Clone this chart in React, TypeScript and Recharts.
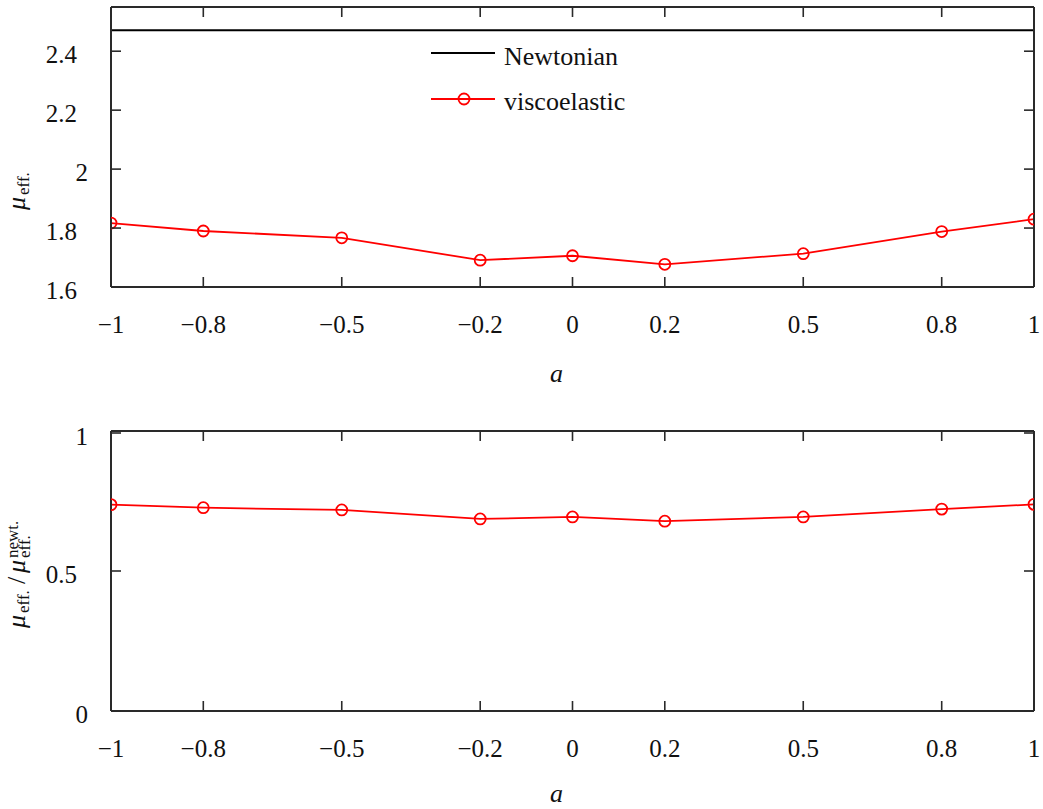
import { Label, Legend, Line, LineChart, XAxis, YAxis } from "recharts";

// values
const aValues = [-1, -0.8, -0.5, -0.2, 0, 0.2, 0.5, 0.8, 1];
const muViscoelastic = [1.817, 1.79, 1.767, 1.691, 1.706, 1.677, 1.713, 1.788, 1.83];
const muNewtonian = 2.471;
const muRatio = [0.737, 0.726, 0.718, 0.686, 0.693, 0.678, 0.693, 0.721, 0.738];

const aTicks = [-1, -0.8, -0.5, -0.2, 0, 0.2, 0.5, 0.8, 1];
const muTicks = [1.6, 1.8, 2, 2.2, 2.4];
const ratioTicks = [0, 0.5, 1];

const topRows = aValues.map((a, i) => ({
  a,
  newtonian: muNewtonian,
  viscoelastic: muViscoelastic[i],
}));
const bottomRows = aValues.map((a, i) => ({ a, ratio: muRatio[i] }));

const FONT = "serif";
const INK = "#111";
const AXIS = "#2a2a2a";
const RED = "#ff0000";
const TICK = 10;

const textStyle = { fontFamily: FONT };

const fmt = (v: number) => (v < 0 ? "\u2212" + String(-v) : String(v));

// tick marks point into the frame, so they are drawn here (tickSize is 0)
function BottomTick({ x, y, payload }: any) {
  return (
    <g>
      <line x1={x} x2={x} y1={y} y2={y - TICK} stroke={AXIS} strokeWidth={1.6} />
      <text x={x} y={y + 46} textAnchor="middle" style={textStyle} fontSize={25} fill={INK}>
        {fmt(payload.value)}
      </text>
    </g>
  );
}

function TopTick({ x, y }: any) {
  return <line x1={x} x2={x} y1={y} y2={y + TICK} stroke={AXIS} strokeWidth={1.6} />;
}

// integer labels sit further right than decimal ones, as in the original
function LeftTick({ x, y, payload }: any) {
  const label = String(payload.value);
  const shift = label.includes(".") ? -34 : -23;
  return (
    <g>
      <line x1={x} x2={x + TICK} y1={y} y2={y} stroke={AXIS} strokeWidth={1.6} />
      <text x={x + shift} y={y + 12} textAnchor="end" style={textStyle} fontSize={25} fill={INK}>
        {label}
      </text>
    </g>
  );
}

function RightTick({ x, y }: any) {
  return <line x1={x} x2={x - TICK} y1={y} y2={y} stroke={AXIS} strokeWidth={1.6} />;
}

const axisLine = { stroke: AXIS, strokeWidth: 2 };

function ALabel({ y }: { y: number }) {
  return (
    <text x={550} y={y} style={textStyle} fontStyle="italic" fontSize={26} fill={INK}>
      a
    </text>
  );
}

function MuLabel() {
  return (
    <g transform="translate(25, 187) rotate(-90)" style={textStyle} fill={INK}>
      <text x={-23} y={0} fontSize={26} fontStyle="italic">μ</text>
      <text x={-8} y={4} fontSize={17}>eff.</text>
    </g>
  );
}

function RatioLabel() {
  return (
    <g transform="translate(25, 204) rotate(-90)" style={textStyle} fill={INK}>
      <text x={0} y={0} fontSize={26} fontStyle="italic">μ</text>
      <text x={15} y={4} fontSize={17}>eff.</text>
      <text x={44} y={0} fontSize={26}>/</text>
      <text x={55} y={0} fontSize={26} fontStyle="italic">μ</text>
      <text x={70} y={5} fontSize={17}>eff.</text>
      <text x={70} y={-7} fontSize={17}>newt.</text>
    </g>
  );
}

function LegendBox() {
  return (
    <svg width={260} height={90} style={{ display: "block" }}>
      <line x1={6} x2={70} y1={15} y2={15} stroke="#000" strokeWidth={2} />
      <text x={79} y={27} style={textStyle} fontSize={26} fill={INK}>Newtonian</text>
      <line x1={6} x2={70} y1={61} y2={61} stroke={RED} strokeWidth={2} />
      <circle cx={39} cy={61} r={5.5} fill="none" stroke={RED} strokeWidth={1.8} />
      <text x={79} y={72} style={textStyle} fontSize={26} fill={INK}>viscoelastic</text>
    </svg>
  );
}

const dot = { r: 5.5, stroke: RED, strokeWidth: 1.8, fill: "none" };

export default function App() {
  return (
    <div
      style={{
        position: "absolute",
        left: 0,
        top: 0,
        width: 1043,
        height: 809,
        background: "#fff",
        overflow: "hidden",
        fontFamily: FONT,
      }}
    >
      <div style={{ position: "absolute", left: 0, top: 0 }}>
        <LineChart width={1043} height={400} data={topRows} margin={{ top: 6, right: 0, left: 0, bottom: 0 }}>
          <XAxis
            dataKey="a"
            type="number"
            domain={[-1, 1]}
            ticks={aTicks}
            allowDataOverflow
            height={113}
            axisLine={axisLine}
            tickLine={false}
            tickSize={0}
            tickMargin={0}
            tick={<BottomTick />}
          >
            <Label content={() => <ALabel y={382} />} />
          </XAxis>
          <XAxis
            xAxisId="top"
            orientation="top"
            dataKey="a"
            type="number"
            domain={[-1, 1]}
            ticks={aTicks}
            allowDataOverflow
            height={1}
            axisLine={axisLine}
            tickLine={false}
            tickSize={0}
            tickMargin={0}
            tick={<TopTick />}
          />
          <YAxis
            type="number"
            domain={[1.6, 2.55]}
            ticks={muTicks}
            allowDataOverflow
            width={111}
            axisLine={axisLine}
            tickLine={false}
            tickSize={0}
            tickMargin={0}
            tick={<LeftTick />}
          >
            <Label content={() => <MuLabel />} />
          </YAxis>
          <YAxis
            yAxisId="right"
            orientation="right"
            type="number"
            domain={[1.6, 2.55]}
            ticks={muTicks}
            allowDataOverflow
            width={9}
            axisLine={axisLine}
            tickLine={false}
            tickSize={0}
            tickMargin={0}
            tick={<RightTick />}
          />
          <Legend
            layout="vertical"
            verticalAlign="middle"
            align="center"
            wrapperStyle={{ left: 425, top: 38, width: 260, height: 90 }}
            content={() => <LegendBox />}
          />
          {/* the frame axes need a series of their own to be drawn */}
          <Line
            xAxisId="top"
            yAxisId="right"
            dataKey="newtonian"
            stroke="#000"
            strokeWidth={2}
            dot={false}
            isAnimationActive={false}
          />
          <Line
            dataKey="viscoelastic"
            stroke={RED}
            strokeWidth={1.8}
            dot={dot}
            isAnimationActive={false}
          />
        </LineChart>
      </div>

      <div style={{ position: "absolute", left: 0, top: 424 }}>
        <LineChart width={1043} height={385} data={bottomRows} margin={{ top: 6, right: 0, left: 0, bottom: 0 }}>
          <XAxis
            dataKey="a"
            type="number"
            domain={[-1, 1]}
            ticks={aTicks}
            allowDataOverflow
            height={98}
            axisLine={axisLine}
            tickLine={false}
            tickSize={0}
            tickMargin={0}
            tick={<BottomTick />}
          >
            <Label content={() => <ALabel y={378} />} />
          </XAxis>
          <XAxis
            xAxisId="top"
            orientation="top"
            dataKey="a"
            type="number"
            domain={[-1, 1]}
            ticks={aTicks}
            allowDataOverflow
            height={1}
            axisLine={axisLine}
            tickLine={false}
            tickSize={0}
            tickMargin={0}
            tick={<TopTick />}
          />
          <YAxis
            type="number"
            domain={[0, 1]}
            ticks={ratioTicks}
            allowDataOverflow
            width={111}
            axisLine={axisLine}
            tickLine={false}
            tickSize={0}
            tickMargin={0}
            tick={<LeftTick />}
          >
            <Label content={() => <RatioLabel />} />
          </YAxis>
          <YAxis
            yAxisId="right"
            orientation="right"
            type="number"
            domain={[0, 1]}
            ticks={ratioTicks}
            allowDataOverflow
            width={9}
            axisLine={axisLine}
            tickLine={false}
            tickSize={0}
            tickMargin={0}
            tick={<RightTick />}
          />
          <Line
            xAxisId="top"
            yAxisId="right"
            dataKey="ratio"
            stroke="none"
            dot={false}
            legendType="none"
            isAnimationActive={false}
          />
          <Line
            dataKey="ratio"
            stroke={RED}
            strokeWidth={1.8}
            dot={dot}
            isAnimationActive={false}
          />
        </LineChart>
      </div>
    </div>
  );
}
